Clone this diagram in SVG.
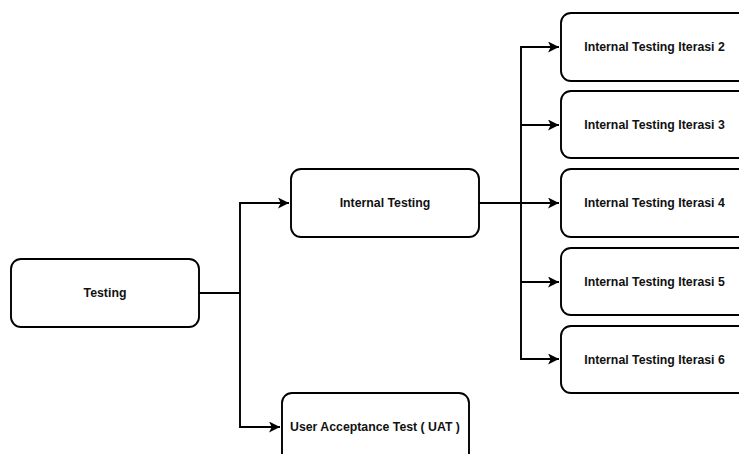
<svg xmlns="http://www.w3.org/2000/svg" width="739" height="454" viewBox="0 0 739 454">
  <defs>
    <marker id="arrow" viewBox="0 0 10 10" refX="10" refY="5" markerWidth="11" markerHeight="11" markerUnits="userSpaceOnUse" orient="auto">
      <path d="M0,0 L10,5 L0,10 L2.5,5 Z" fill="#000"/>
    </marker>
  </defs>
  <style>
    .box { fill: #fff; stroke: #000; stroke-width: 1.9; }
    .label { font-family: "Liberation Sans", Arial, Helvetica, sans-serif; font-weight: bold; font-size: 12.3px; fill: #111; text-anchor: middle; dominant-baseline: central; }
    .edge { fill: none; stroke: #000; stroke-width: 1.9; }
  </style>
  <rect width="739" height="454" fill="#fff"/>

  <g id="connectors">
    <path class="edge" d="M199,293 H240 V203 H289" marker-end="url(#arrow)"/>
    <path class="edge" d="M240,293 V427 H280" marker-end="url(#arrow)"/>
    <path class="edge" d="M479,203 H559" marker-end="url(#arrow)"/>
    <path class="edge" d="M521,203 V47 H559" marker-end="url(#arrow)"/>
    <path class="edge" d="M521,125 H559" marker-end="url(#arrow)"/>
    <path class="edge" d="M521,203 V359 H559" marker-end="url(#arrow)"/>
    <path class="edge" d="M521,282 H559" marker-end="url(#arrow)"/>
  </g>

  <g id="testing">
    <rect class="box" x="11" y="259" width="188" height="68" rx="10"/>
    <text class="label" x="105" y="293">Testing</text>
  </g>
  <g id="internal-testing">
    <rect class="box" x="291" y="169" width="188" height="68" rx="10"/>
    <text class="label" x="385" y="203">Internal Testing</text>
  </g>
  <g id="uat">
    <rect class="box" x="282" y="393" width="187" height="70" rx="10"/>
    <text class="label" x="375" y="427">User Acceptance Test ( UAT )</text>
  </g>
  <g id="iterasi-2">
    <rect class="box" x="561" y="13" width="188" height="68" rx="10"/>
    <text class="label" x="654.5" y="47">Internal Testing Iterasi 2</text>
  </g>
  <g id="iterasi-3">
    <rect class="box" x="561" y="91" width="188" height="67" rx="10"/>
    <text class="label" x="654.5" y="125">Internal Testing Iterasi 3</text>
  </g>
  <g id="iterasi-4">
    <rect class="box" x="561" y="169" width="188" height="68" rx="10"/>
    <text class="label" x="654.5" y="203">Internal Testing Iterasi 4</text>
  </g>
  <g id="iterasi-5">
    <rect class="box" x="561" y="248" width="188" height="67" rx="10"/>
    <text class="label" x="654.5" y="282">Internal Testing Iterasi 5</text>
  </g>
  <g id="iterasi-6">
    <rect class="box" x="561" y="326" width="188" height="67" rx="10"/>
    <text class="label" x="654.5" y="360">Internal Testing Iterasi 6</text>
  </g>
</svg>
